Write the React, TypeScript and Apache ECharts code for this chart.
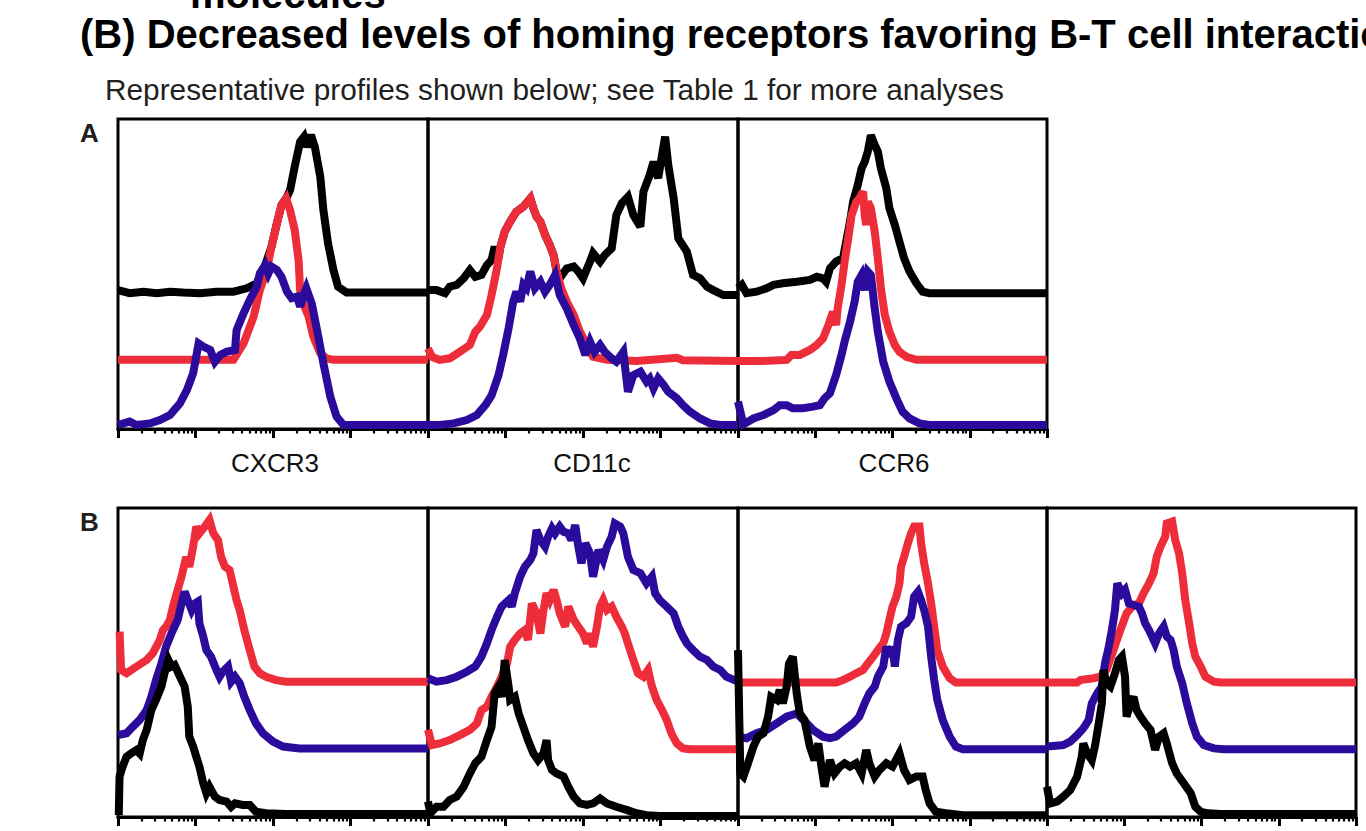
import React, { useEffect, useRef } from "react";
import * as echarts from "echarts";

// x: log10 fluorescence (decades 0-4), y: % of panel max
const a1Black = [[0,44.8],[0.15,43.8],[0.33,44.3],[0.5,43.8],[0.67,44.3],[0.84,44.0],[1.06,43.8],[1.27,44.3],[1.49,44.3],[1.66,45.4],[1.79,47],[1.9,52.9],[1.98,58.8],[2.05,66.3],[2.11,72.3],[2.17,74.4],[2.22,77],[2.28,84.6],[2.35,92.7],[2.4,94.3],[2.44,91],[2.49,94.8],[2.54,91],[2.61,81.4],[2.65,70.6],[2.71,59.9],[2.78,51.3],[2.84,45.9],[2.95,44],[4,44]];
const a1Red = [[0,22.3],[0.97,22.3],[1.49,22.3],[1.62,27.6],[1.75,36.2],[1.83,44.8],[1.92,51.3],[1.98,58.8],[2.05,66.3],[2.11,72.3],[2.17,74.4],[2.22,70.6],[2.28,64.2],[2.33,54.5],[2.35,44.8],[2.39,40.5],[2.46,36.2],[2.52,29.8],[2.61,24.4],[2.69,22.8],[2.78,22.3],[4,22.3]];
const a1Blue = [[0,1.3],[0.15,2.4],[0.24,1.3],[0.41,1.8],[0.54,2.9],[0.67,4.5],[0.8,8.3],[0.89,12.6],[0.97,18],[1.04,27.6],[1.1,26.6],[1.19,25.5],[1.25,21.7],[1.32,23.9],[1.4,24.9],[1.51,25.5],[1.53,31.9],[1.62,37.3],[1.7,41.6],[1.79,45.9],[1.83,50.2],[1.9,52.9],[1.94,50.2],[1.98,52.4],[2.05,51.3],[2.11,49.1],[2.18,44.3],[2.24,42.2],[2.31,42.7],[2.35,39.5],[2.39,42.7],[2.43,45.4],[2.5,40.5],[2.56,33],[2.65,21.2],[2.74,10.4],[2.82,4],[2.91,1.3],[3.04,1.3],[4,1.3]];

const a2Black = [[0,44.8],[0.11,44.8],[0.22,43.8],[0.28,45.9],[0.37,46.5],[0.46,48.6],[0.54,51.3],[0.61,49.1],[0.69,49.7],[0.76,52.9],[0.82,54.5],[0.86,58.8],[0.91,55.1],[0.93,58.3],[0.99,63.7],[1.06,66.9],[1.14,70.1],[1.23,71.7],[1.32,74.4],[1.36,71.2],[1.4,68.5],[1.45,66.9],[1.51,62.6],[1.57,59.4],[1.62,56.1],[1.66,50.8],[1.7,48.6],[1.79,51.8],[1.88,52.4],[1.94,50.8],[2.0,48.6],[2.09,54],[2.13,56.7],[2.22,54],[2.28,56.1],[2.37,58.3],[2.43,69],[2.5,72.8],[2.58,74.9],[2.65,69],[2.74,65.3],[2.78,76.6],[2.86,81.9],[2.91,86.2],[2.97,80.9],[3.02,88.4],[3.06,94.3],[3.1,85.2],[3.17,74.4],[3.23,61.5],[3.34,57.2],[3.42,49.7],[3.51,48.6],[3.6,45.9],[3.68,44.8],[3.81,43.2],[4,43.2]];
const a2Red = [[0,26],[0.05,23.3],[0.15,22.3],[0.28,22.8],[0.41,24.9],[0.54,27.1],[0.61,31.4],[0.67,33],[0.76,36.8],[0.82,43.2],[0.89,51.8],[0.93,58.3],[0.99,63.7],[1.06,66.9],[1.14,70.1],[1.23,71.7],[1.32,74.4],[1.36,71.2],[1.4,68.5],[1.45,66.9],[1.51,62.6],[1.57,59.4],[1.62,56.1],[1.66,50.8],[1.72,45.4],[1.79,41.1],[1.88,36.8],[1.96,31.4],[2.05,27.1],[2.13,23.3],[2.31,22.3],[2.69,21.9],[3.21,23],[3.29,22.2],[4,21.9]];
const a2Blue = [[0,1.3],[0.15,1.3],[0.33,1.8],[0.5,2.9],[0.63,4.5],[0.74,7.7],[0.82,10.8],[0.91,17.4],[0.97,23.9],[1.04,32.5],[1.1,41.1],[1.14,44.3],[1.19,41.1],[1.23,46.5],[1.27,45.4],[1.32,50.8],[1.38,45.4],[1.45,47.5],[1.51,44.3],[1.57,46.5],[1.64,49.7],[1.7,43.2],[1.79,38.9],[1.88,33.5],[1.96,29.2],[2.03,23.9],[2.09,28.2],[2.15,24.9],[2.22,27.1],[2.28,24.9],[2.37,22.8],[2.43,21.7],[2.52,24.9],[2.58,12],[2.65,17.4],[2.74,18.5],[2.82,15.3],[2.86,16.3],[2.91,13.1],[2.97,16.3],[3.04,14.2],[3.1,12],[3.21,9.9],[3.29,7.7],[3.38,5.6],[3.51,3.4],[3.64,1.8],[3.77,1.3],[4,1.3]];

const a3Black = [[0,45.4],[0.05,46.5],[0.11,43.8],[0.24,44.3],[0.37,45.4],[0.46,46.5],[0.58,47],[0.76,47.5],[0.93,48.1],[1.02,49.1],[1.1,48.6],[1.14,47.5],[1.19,51.8],[1.27,54],[1.36,55.1],[1.4,60.4],[1.45,66.9],[1.49,73.3],[1.55,78.7],[1.6,84.1],[1.64,86.2],[1.68,89.5],[1.72,94.8],[1.77,91.6],[1.81,89.5],[1.85,84.1],[1.92,77.6],[1.96,71.2],[2.03,65.8],[2.09,60.4],[2.15,55.1],[2.22,50.8],[2.31,47],[2.39,44.3],[2.48,43.8],[4,43.8]];
const a3Red = [[0,21.9],[0.33,21.9],[0.63,22.3],[0.69,23.9],[0.8,23.9],[0.93,25.5],[1.02,27.1],[1.1,29.2],[1.17,33.5],[1.23,37.8],[1.27,33.5],[1.29,38.9],[1.34,46.5],[1.38,54],[1.42,60.4],[1.47,69],[1.53,73.3],[1.57,74.4],[1.62,76.6],[1.64,69],[1.66,65.8],[1.68,73.3],[1.72,71.2],[1.77,63.7],[1.81,55.1],[1.85,45.4],[1.9,36.8],[1.96,31.4],[2.03,27.1],[2.09,24.9],[2.18,23.3],[2.31,22.3],[4,22.3]];
const a3Blue = [[0,8.8],[0.07,1.5],[0.2,3.4],[0.33,4.5],[0.46,6.1],[0.54,7.7],[0.63,7.7],[0.71,6.7],[0.84,6.7],[0.97,7.2],[1.06,7.7],[1.12,9.9],[1.19,11.5],[1.27,17.4],[1.34,23.9],[1.38,28.2],[1.45,34.6],[1.51,41.1],[1.55,47.5],[1.6,49.7],[1.64,44.8],[1.68,50.8],[1.72,49.7],[1.77,38.9],[1.81,31.4],[1.88,21.7],[1.96,15.3],[2.05,9.9],[2.13,5.6],[2.22,3.4],[2.35,1.8],[2.48,1.3],[4,1.3]];

const b1Red = [[0.02,60],[0.04,47.6],[0.11,46.5],[0.24,48.7],[0.37,50.8],[0.45,53],[0.54,57.3],[0.58,60.5],[0.62,61.6],[0.67,63.8],[0.71,68.1],[0.77,73.5],[0.82,77.8],[0.88,84.2],[0.92,81],[0.97,87.5],[1.01,94],[1.05,91.8],[1.12,94],[1.18,96.1],[1.23,91.8],[1.29,89.6],[1.33,84.2],[1.38,81],[1.44,79.9],[1.48,75.6],[1.53,70.2],[1.57,67],[1.63,60.5],[1.7,54],[1.76,48.7],[1.83,46.5],[1.91,45.4],[2.04,44.3],[2.17,43.8],[4,43.8]];
const b1Blue = [[0,26.5],[0.11,27.1],[0.19,29.2],[0.28,31.4],[0.37,34.6],[0.43,38.9],[0.49,44.3],[0.56,49.7],[0.62,55.1],[0.69,59.4],[0.73,61.6],[0.77,63.8],[0.82,69.1],[0.86,72.9],[0.9,70.2],[0.95,67],[0.99,69.1],[1.03,69.7],[1.05,62.7],[1.1,58.4],[1.14,54],[1.2,51.9],[1.27,47.6],[1.31,45.4],[1.35,47],[1.42,48.7],[1.46,43.8],[1.51,45.4],[1.57,43.3],[1.63,38.9],[1.7,34.6],[1.78,30.3],[1.87,27.1],[2.0,24.4],[2.13,22.8],[2.34,22.2],[4,22.2]];
const b1Black = [[0.01,0.6],[0.02,13.1],[0.06,16.3],[0.11,19.5],[0.17,20.6],[0.24,21.7],[0.28,20.6],[0.32,24.9],[0.37,28.2],[0.43,34.6],[0.49,37.9],[0.56,42.2],[0.6,46.5],[0.65,50.8],[0.69,48.7],[0.73,49.2],[0.8,45.4],[0.86,42.2],[0.9,35.7],[0.92,26],[0.97,22.8],[1.01,19.5],[1.05,16.3],[1.1,10.9],[1.14,7.7],[1.18,9.8],[1.25,6.6],[1.31,5.5],[1.4,5],[1.46,3.3],[1.51,4.4],[1.61,3.9],[1.7,3.9],[1.78,1.7],[1.91,1.2],[2.17,1],[4,1]];

const b2Red = [[0,28.2],[0.05,23.3],[0.15,23.8],[0.28,24.9],[0.41,26.5],[0.54,28.2],[0.63,30.3],[0.69,34.6],[0.76,35.7],[0.82,38.9],[0.89,42.2],[0.95,45.4],[1.02,49.7],[1.06,55.1],[1.12,57.3],[1.19,59.4],[1.25,60.5],[1.29,57.3],[1.34,69.1],[1.4,65.9],[1.45,59.4],[1.49,67],[1.53,72.4],[1.57,70.2],[1.62,73.5],[1.66,70.2],[1.7,65.9],[1.77,61.6],[1.81,68.1],[1.88,63.8],[1.94,61.6],[2.0,59.4],[2.05,56.2],[2.09,59.4],[2.13,55.1],[2.18,61.6],[2.22,68.1],[2.26,70.2],[2.31,67],[2.37,68.1],[2.43,64.8],[2.5,61.6],[2.54,59.4],[2.58,56.2],[2.65,50.8],[2.71,46.5],[2.78,45.4],[2.84,47.6],[2.89,42.2],[2.95,37.9],[3.02,34.6],[3.08,31.4],[3.14,27.1],[3.21,23.8],[3.29,22.2],[3.38,21.9],[4,21.9]];
const b2Blue = [[0,44.9],[0.11,43.8],[0.24,44.3],[0.37,45.4],[0.5,47],[0.61,48.7],[0.69,51.9],[0.76,56.2],[0.82,60.5],[0.89,64.8],[0.95,68.1],[1.04,70.2],[1.08,68.1],[1.12,72.4],[1.19,77.8],[1.25,81],[1.32,83.2],[1.36,85.3],[1.4,92.9],[1.45,89.6],[1.51,87.5],[1.55,90.7],[1.6,93.4],[1.64,91.8],[1.7,94],[1.75,92.3],[1.81,91.8],[1.85,89.6],[1.9,94.5],[1.94,87.5],[1.98,82.1],[2.03,88.6],[2.09,85.3],[2.13,77.8],[2.2,86.4],[2.26,83.2],[2.31,87.5],[2.37,90.7],[2.41,95],[2.48,94],[2.52,91.8],[2.58,84.2],[2.65,79.9],[2.74,78.9],[2.82,75.6],[2.89,77.8],[2.93,72.4],[2.99,70.2],[3.08,68.1],[3.17,65.9],[3.23,61.6],[3.29,58.4],[3.34,56.2],[3.42,54],[3.51,51.9],[3.6,50.8],[3.68,48.7],[3.77,47.6],[3.85,45.4],[4,43.8]];
const b2Black = [[0,5],[0.03,1.2],[0.11,3.3],[0.2,3.3],[0.28,5.5],[0.37,6.6],[0.46,9.8],[0.54,14.1],[0.61,17.4],[0.69,19.5],[0.76,24.9],[0.82,29.2],[0.86,40],[0.91,42.2],[0.95,38.9],[0.99,50.8],[1.04,42.2],[1.06,37.9],[1.12,38.9],[1.17,33.5],[1.23,29.2],[1.29,24.9],[1.36,20.6],[1.42,18.4],[1.49,20.6],[1.53,24.9],[1.55,18.4],[1.6,15.2],[1.66,14.1],[1.75,13.1],[1.81,9.8],[1.88,6.6],[1.96,4.4],[2.05,3.9],[2.13,4.4],[2.22,6],[2.31,4.4],[2.43,3.3],[2.56,2.3],[2.69,1.2],[2.82,0.6],[2.99,0.3],[4,0.3]];

const b3Red = [[0,43.5],[1.27,43.5],[1.36,44.3],[1.45,45.4],[1.53,46.5],[1.62,47.6],[1.68,49.7],[1.75,51.9],[1.81,54],[1.88,56.2],[1.92,59.4],[1.96,63.8],[2.0,68.1],[2.05,71.3],[2.09,75.6],[2.11,81],[2.15,84.2],[2.2,88.6],[2.24,91.8],[2.28,94],[2.35,94],[2.37,88.6],[2.41,82.1],[2.46,75.6],[2.5,69.1],[2.54,61.6],[2.58,54],[2.65,48.7],[2.74,44.9],[2.82,43.5],[4,43.5]];
const b3Blue = [[0,26],[0.11,25.5],[0.24,27.1],[0.37,28.2],[0.5,30.3],[0.63,32.5],[0.76,33.5],[0.89,30.3],[0.97,28.2],[1.1,26],[1.19,25.5],[1.27,26],[1.38,28.2],[1.49,30.3],[1.57,32.5],[1.64,36.8],[1.7,40],[1.77,42.2],[1.81,45.4],[1.88,48.7],[1.92,55.1],[1.96,51.9],[2.0,55.1],[2.03,48.7],[2.07,57.3],[2.11,61.6],[2.18,62.7],[2.24,64.8],[2.28,71.3],[2.33,72.9],[2.37,70.2],[2.41,67],[2.46,61.6],[2.5,51.9],[2.54,44.3],[2.58,37.9],[2.65,31.4],[2.74,26],[2.82,22.8],[2.91,21.9],[4,21.9]];
const b3Black = [[0,54],[0.03,14.1],[0.07,13.1],[0.13,17.4],[0.2,22.8],[0.26,26],[0.33,27.1],[0.39,32.5],[0.43,38.9],[0.5,37.9],[0.54,41.1],[0.58,36.8],[0.63,42.2],[0.66,49.7],[0.71,51.9],[0.76,40],[0.8,33.5],[0.86,31.4],[0.93,22.8],[0.99,18.4],[1.04,23.8],[1.08,16.3],[1.12,9.8],[1.19,18.4],[1.25,14.1],[1.32,16.3],[1.38,17.4],[1.45,16.3],[1.53,17.4],[1.6,14.1],[1.66,21.7],[1.7,17.4],[1.77,13.1],[1.83,15.2],[1.92,17.4],[2.0,16.3],[2.09,20.6],[2.15,15.2],[2.22,12],[2.31,13.1],[2.39,13.1],[2.43,8.7],[2.48,4.4],[2.56,1.7],[2.69,1.2],[2.91,0.6],[4,0.6]];

const b4Red = [[0,43.5],[0.39,43.5],[0.43,44.3],[0.6,44.9],[0.69,45.4],[0.77,47.6],[0.86,54],[0.95,60.5],[1.03,65.9],[1.12,68.6],[1.19,69.1],[1.25,72.4],[1.32,75.6],[1.38,78.9],[1.42,84.2],[1.47,87.5],[1.53,90.7],[1.55,95],[1.62,95.6],[1.66,89.6],[1.71,85.3],[1.75,78.9],[1.79,70.2],[1.84,62.7],[1.88,56.2],[1.92,51.9],[1.99,48.7],[2.05,45.4],[2.16,43.8],[2.25,43.5],[4,43.5]];
const b4Blue = [[0,22.8],[0.08,23],[0.21,23.3],[0.3,24.4],[0.39,26.5],[0.47,28.7],[0.54,31.4],[0.58,36.8],[0.65,40],[0.71,42.2],[0.75,49.7],[0.8,55.1],[0.84,60.5],[0.88,67],[0.91,75.6],[0.97,72.4],[1.01,73.5],[1.06,69.1],[1.12,68.6],[1.19,68.1],[1.23,65.9],[1.27,62.7],[1.32,60.5],[1.36,58.4],[1.4,56.2],[1.45,59.4],[1.51,61.6],[1.55,58.4],[1.6,57.3],[1.64,54],[1.68,48.7],[1.75,43.3],[1.81,36.8],[1.88,30.3],[1.94,26],[2.03,23.3],[2.16,22.2],[2.29,21.9],[4,21.9]];
const b4Black = [[0,9.8],[0.04,4.4],[0.13,5],[0.21,6.6],[0.3,8.7],[0.39,13.1],[0.45,19.5],[0.47,23.8],[0.52,20.6],[0.58,18.4],[0.62,22.8],[0.67,30.3],[0.71,36.8],[0.73,47.6],[0.77,43.3],[0.82,42.2],[0.88,46.5],[0.93,50.8],[0.97,51.9],[1.01,45.4],[1.03,32.5],[1.08,36.8],[1.12,38.9],[1.16,34.6],[1.21,32.5],[1.27,30.3],[1.34,28.2],[1.4,21.7],[1.45,26],[1.51,27.1],[1.55,23.8],[1.62,17.4],[1.68,14.1],[1.77,10.9],[1.86,7.7],[1.92,3.3],[1.99,1.7],[2.08,1.2],[2.25,1],[4,1]];

const rowAMarkers = ["CXCR3", "CD11c", "CCR6"];
const decadeTicks = [0, 1, 2, 3, 4];
const minorMultipliers = [2, 3, 4, 5, 6, 7, 8, 9];

const RED = "#ee2d3b";
const BLUE = "#2a0b9c";
const BLACK = "#000000";

// panel layout (pixels)
const panels = [
  { left: 118, top: 119, width: 310, height: 310, lines: [[a1Black, BLACK], [a1Red, RED], [a1Blue, BLUE]] },
  { left: 428, top: 119, width: 310, height: 310, lines: [[a2Black, BLACK], [a2Red, RED], [a2Blue, BLUE]] },
  { left: 738, top: 119, width: 309, height: 310, lines: [[a3Black, BLACK], [a3Red, RED], [a3Blue, BLUE]] },
  { left: 118, top: 508, width: 310, height: 309, lines: [[b1Red, RED], [b1Blue, BLUE], [b1Black, BLACK]] },
  { left: 428, top: 508, width: 310, height: 309, lines: [[b2Red, RED], [b2Blue, BLUE], [b2Black, BLACK]] },
  { left: 738, top: 508, width: 309, height: 309, lines: [[b3Red, RED], [b3Blue, BLUE], [b3Black, BLACK]] },
  { left: 1047, top: 508, width: 309, height: 309, lines: [[b4Red, RED], [b4Blue, BLUE], [b4Black, BLACK]] },
];
const markerLabelX = [275, 592, 894];

const FONT = "'Liberation Sans', Arial, Helvetica, sans-serif";

export default function App() {
  const ref = useRef<HTMLDivElement>(null);
  useEffect(() => {
    document.body.style.margin = "0";
    const chart = echarts.init(ref.current!, undefined, { renderer: "svg" });
    const minorTicks: number[] = [];
    for (let d = 0; d < 4; d++) {
      for (const k of minorMultipliers) minorTicks.push(d + Math.log10(k));
    }
    const grid: any[] = [];
    const xAxis: any[] = [];
    const yAxis: any[] = [];
    const series: any[] = [];
    panels.forEach((p, i) => {
      grid.push({
        left: p.left, top: p.top, width: p.width, height: p.height,
        show: true, borderColor: "#000", borderWidth: 3, backgroundColor: "transparent",
      });
      xAxis.push({
        type: "value", gridIndex: i, min: 0, max: 4, interval: 1, position: "bottom",
        axisLine: { show: true, onZero: false, lineStyle: { color: "#000", width: 3 } },
        axisTick: { show: true, inside: false, length: 9, customValues: decadeTicks, lineStyle: { color: "#000", width: 3 } },
        axisLabel: { show: false }, splitLine: { show: false },
      });
      xAxis.push({
        type: "value", gridIndex: i, min: 0, max: 4, interval: 1, position: "bottom",
        axisLine: { show: false, onZero: false },
        axisTick: { show: true, inside: false, length: 4.5, customValues: minorTicks, lineStyle: { color: "#000", width: 2.2 } },
        axisLabel: { show: false }, splitLine: { show: false },
      });
      yAxis.push({ type: "value", gridIndex: i, min: 0, max: 100, show: false });
      p.lines.forEach(([data, color]: any) => {
        series.push({
          type: "line", xAxisIndex: 2 * i, yAxisIndex: i, data,
          showSymbol: false, symbol: "none", clip: false, silent: true,
          lineStyle: { color, width: 8, join: "miter", miterLimit: 3 },
        });
      });
    });
    const txt = (x: number, y: number, text: string, fontSize: number, fontWeight: string, fill: string, align = "left") => ({
      type: "text", x, y, silent: true,
      style: { text, fontSize, fontWeight, fontFamily: FONT, fill, align, textAlign: align, verticalAlign: "middle", textVerticalAlign: "middle" },
    });
    const graphic: any[] = [
      txt(190, -6, "molecules", 40, "bold", "#000"),
      txt(80, 34, "(B) Decreased levels of homing receptors favoring B-T cell interactions", 40, "bold", "#000"),
      txt(105, 89, "Representative profiles shown below; see Table 1 for more analyses", 29.8, "normal", "#231f20"),
      txt(80, 133, "A", 26, "bold", "#231f20"),
      txt(80, 522, "B", 26, "bold", "#231f20"),
      ...rowAMarkers.map((m, i) => txt(markerLabelX[i], 463, m, 26, "normal", "#111", "center")),
    ];
    chart.setOption({ animation: false, backgroundColor: "#fff", grid, xAxis, yAxis, series, graphic });
    return () => chart.dispose();
  }, []);
  return <div ref={ref} style={{ position: "absolute", left: 0, top: 0, width: 1366, height: 831 }} />;
}
